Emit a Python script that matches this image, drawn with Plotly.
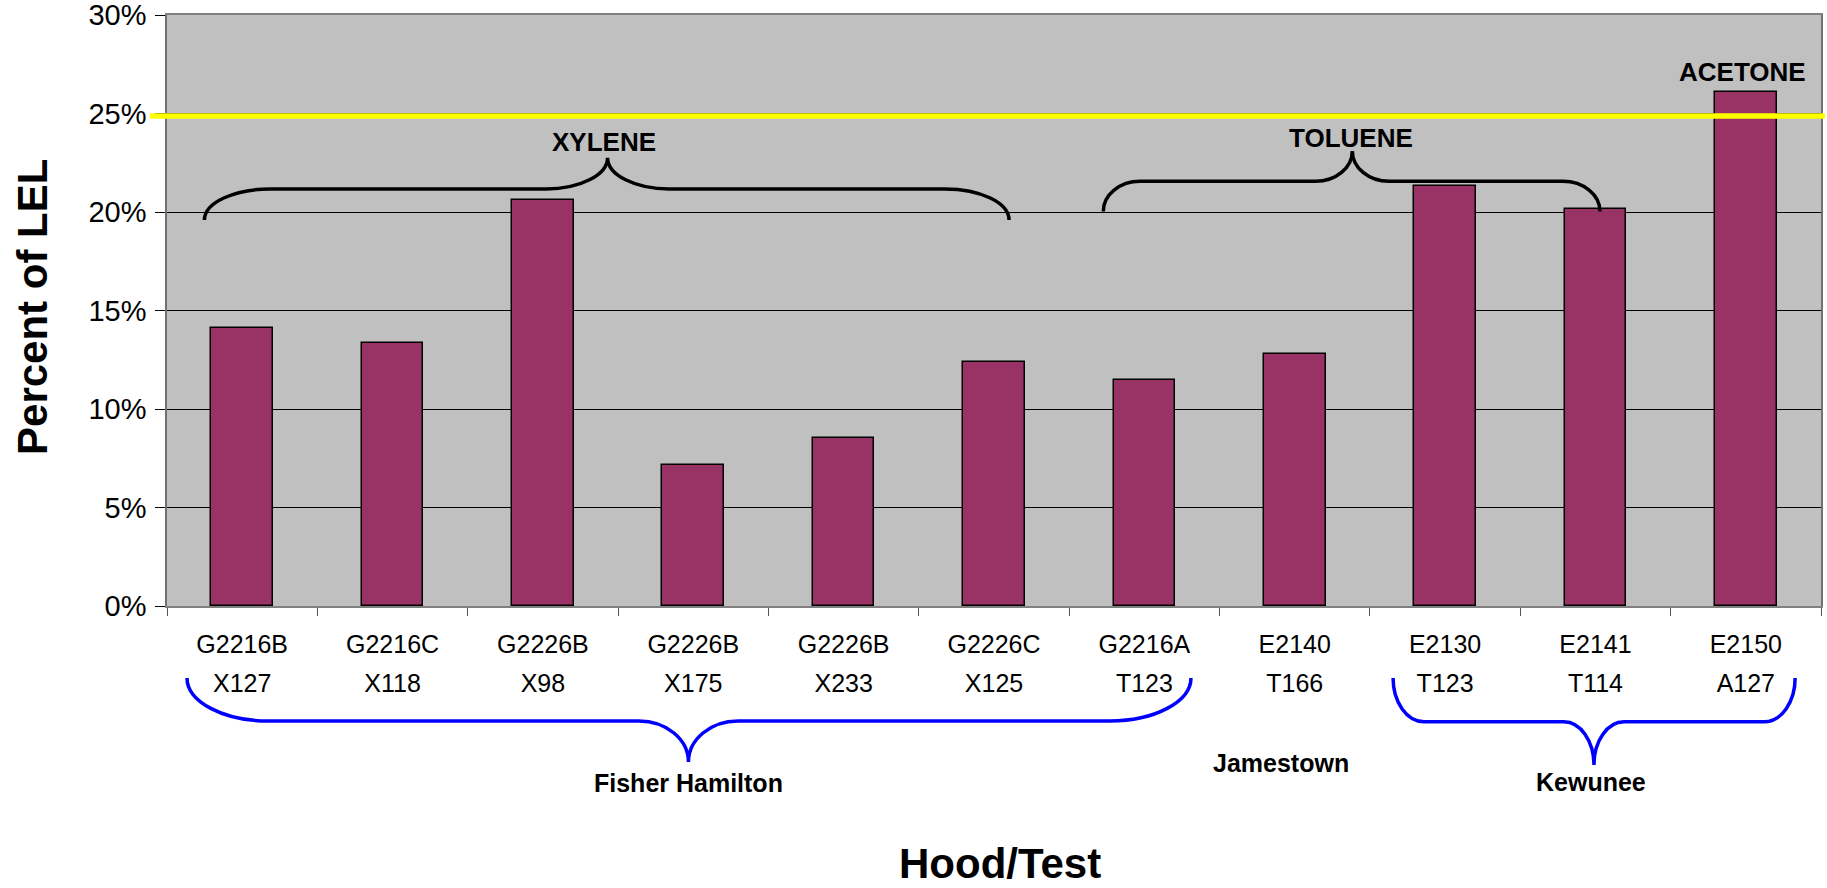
import plotly.graph_objects as go

# ---------------- data ----------------
hoods = ["G2216B", "G2216C", "G2226B", "G2226B", "G2226B", "G2226C",
         "G2216A", "E2140", "E2130", "E2141", "E2150"]
tests = ["X127", "X118", "X98", "X175", "X233", "X125",
         "T123", "T166", "T123", "T114", "A127"]
percent_lel = [14.1, 13.35, 20.6, 7.15, 8.55, 12.4, 11.45, 12.8, 21.3, 20.15, 26.1]
limit_line = 24.87
y_ticks = [0, 5, 10, 15, 20, 25, 30]
y_tick_labels = [f"{v}%" for v in y_ticks]

FONT = "Arial, 'Liberation Sans', sans-serif"
positions = list(range(len(hoods)))

fig = go.Figure()
fig.add_trace(go.Bar(
    x=positions, y=percent_lel, width=0.41,
    marker=dict(color="#993366", line=dict(color="black", width=1.5)),
    showlegend=False, hoverinfo="skip",
))
# helper trace so the second-line label axis exists
fig.add_trace(go.Scatter(x=[], y=[], xaxis="x2", yaxis="y", showlegend=False))


def brace(xl, xr, xc, y_end, y_bar, y_tip, cl, cr, hc):
    k = 0.5523
    return (
        f"M {xl},{y_end} "
        f"C {xl},{y_end + k*(y_bar-y_end)} {xl + cl*(1-k)},{y_bar} {xl+cl},{y_bar} "
        f"L {xc-hc},{y_bar} "
        f"C {xc-hc + k*hc},{y_bar} {xc},{y_tip + k*(y_bar-y_tip)} {xc},{y_tip} "
        f"C {xc},{y_tip + k*(y_bar-y_tip)} {xc+hc - k*hc},{y_bar} {xc+hc},{y_bar} "
        f"L {xr-cr},{y_bar} "
        f"C {xr - cr*(1-k)},{y_bar} {xr},{y_end + k*(y_bar-y_end)} {xr},{y_end}"
    )


shapes = [
    # 25% reference line
    dict(type="line", xref="x domain", yref="y", x0=-0.0103, x1=1.0024,
         y0=limit_line, y1=limit_line, line=dict(color="#FFFF00", width=5.5), layer="above"),
    # solvent braces (data coords)
    dict(type="path", xref="x", yref="y", layer="above",
         path=brace(-0.251, 5.100, 2.430, 19.6, 21.17, 22.76, 0.439, 0.426, 0.41),
         line=dict(color="black", width=3.5)),
    dict(type="path", xref="x", yref="y", layer="above",
         path=brace(5.727, 9.030, 7.383, 20.03, 21.56, 23.1, 0.244, 0.246, 0.244),
         line=dict(color="black", width=3.5)),
    # manufacturer braces (below axis)
    dict(type="path", xref="x", yref="paper", layer="above",
         path=brace(-0.367, 6.310, 2.968, -0.1218, -0.1946, -0.264, 0.54, 0.54, 0.33),
         line=dict(color="#0000FF", width=3.5)),
    dict(type="path", xref="x", yref="paper", layer="above",
         path=brace(7.654, 10.328, 8.990, -0.122, -0.196, -0.269, 0.206, 0.206, 0.2),
         line=dict(color="#0000FF", width=3.5)),
]

bold = dict(family=FONT, color="black")
annotations = [
    dict(text="<b>XYLENE</b>", x=2.406, y=23.53, xref="x", yref="y",
         font=dict(size=26, **bold), showarrow=False),
    dict(text="<b>TOLUENE</b>", x=7.374, y=23.78, xref="x", yref="y",
         font=dict(size=26, **bold), showarrow=False),
    dict(text="<b>ACETONE</b>", x=9.975, y=27.1, xref="x", yref="y",
         font=dict(size=26, **bold), showarrow=False),
    dict(text="<b>Fisher Hamilton</b>", x=2.968, y=-0.2995, xref="x", yref="paper",
         font=dict(size=25, **bold), showarrow=False, yanchor="middle"),
    dict(text="<b>Jamestown</b>", x=6.909, y=-0.2657, xref="x", yref="paper",
         font=dict(size=25, **bold), showarrow=False, yanchor="middle"),
    dict(text="<b>Kewunee</b>", x=8.97, y=-0.298, xref="x", yref="paper",
         font=dict(size=25, **bold), showarrow=False, yanchor="middle"),
    dict(text="<b>Percent of LEL</b>", x=-0.081, y=0.506, xref="paper", yref="paper",
         textangle=-90, font=dict(size=42, **bold), showarrow=False,
         xanchor="center", yanchor="middle"),
    dict(text="<b>Hood/Test</b>", x=0.5036, y=-0.4765, xref="paper", yref="paper",
         font=dict(size=42, **bold), showarrow=False, xanchor="center", yanchor="bottom",
         borderpad=0),
]

fig.update_layout(
    width=1827, height=888,
    margin=dict(l=167, r=6, t=15, b=282, autoexpand=False),
    paper_bgcolor="white", plot_bgcolor="#C0C0C0",
    font=dict(family=FONT, color="black"),
    showlegend=False,
    bargap=0,
    shapes=shapes,
    annotations=annotations,
    xaxis=dict(
        type="linear", range=[-0.5, 10.5],
        tickmode="array", tickvals=positions, ticktext=hoods,
        ticks="", tickfont=dict(size=25, family=FONT, color="black"),
        ticklabelstandoff=15, ticklabeloverflow="allow",
        minor=dict(tickmode="array", tickvals=[p - 0.5 for p in positions] + [10.5],
                   ticks="outside", ticklen=8, tickcolor="#555555", tickwidth=1.3,
                   showgrid=False),
        showline=True, linecolor="#808080", linewidth=1.5, mirror=True,
        showgrid=False, zeroline=False, fixedrange=True,
    ),
    xaxis2=dict(
        type="linear", range=[-0.5, 10.5], overlaying="x", side="bottom", anchor="y",
        tickmode="array", tickvals=positions, ticktext=tests,
        ticks="", tickfont=dict(size=25, family=FONT, color="black"),
        ticklabelstandoff=60, ticklabeloverflow="allow",
        showline=False, showgrid=False, zeroline=False, fixedrange=True,
    ),
    yaxis=dict(
        range=[0, 30], tickmode="array", tickvals=y_ticks, ticktext=y_tick_labels,
        ticks="outside", ticklen=10, tickcolor="black", tickwidth=1.3,
        tickfont=dict(size=29, family=FONT, color="black"),
        ticklabelstandoff=3, ticklabeloverflow="allow",
        showgrid=True, gridcolor="black", gridwidth=1,
        showline=True, linecolor="#707070", linewidth=1.5, mirror=True,
        zeroline=False, fixedrange=True,
    ),
)

fig.write_html("out.html", config={"displayModeBar": False},
               post_script="document.body.style.margin='0';")
